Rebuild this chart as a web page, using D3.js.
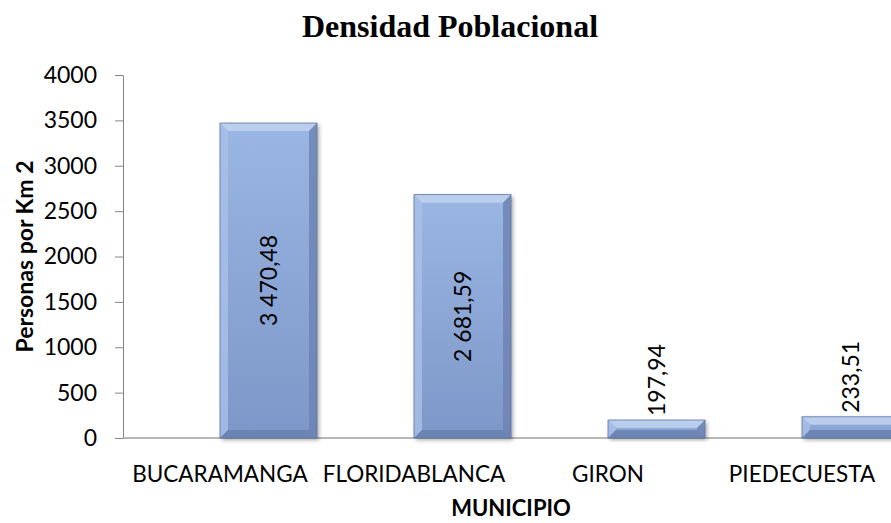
<!DOCTYPE html>
<html>
<head>
<meta charset="utf-8">
<script src="https://cdn.jsdelivr.net/npm/d3@7"></script>
<style>
  body { margin: 0; background: #fff; }
  svg text { font-family: Lato, "Open Sans", sans-serif; fill: #000; }
</style>
</head>
<body>
<div id="chart"></div>
<script>
const municipios = ["BUCARAMANGA", "FLORIDABLANCA", "GIRON", "PIEDECUESTA"];
const densidad = [3470.48, 2681.59, 197.94, 233.51];
const valueLabels = ["3 470,48", "2 681,59", "197,94", "233,51"];
const series = ["vacia", "densidad"];
const yTicks = [0, 500, 1000, 1500, 2000, 2500, 3000, 3500, 4000];

var width = 891;
var height = 523;
var margin = { left: 123, top: 75, right: -8, bottom: 85 };

var svg = d3.select("#chart").append("svg")
    .attr("width", width)
    .attr("height", height);

var defs = svg.append("defs");
var grad = defs.append("linearGradient")
    .attr("id", "barFill").attr("x1", 0).attr("y1", 0).attr("x2", 0).attr("y2", 1);
grad.append("stop").attr("offset", "0%").attr("stop-color", "#9ab6e2");
grad.append("stop").attr("offset", "100%").attr("stop-color", "#7d97c8");

var shadow = defs.append("filter").attr("id", "shadow")
    .attr("x", "-10%").attr("y", "-10%").attr("width", "130%").attr("height", "130%");
shadow.append("feDropShadow")
    .attr("dx", 2).attr("dy", 2).attr("stdDeviation", 2)
    .attr("flood-color", "#000").attr("flood-opacity", 0.35);

var x = d3.scaleBand()
    .domain(municipios)
    .range([margin.left, width - margin.right])
    .paddingInner(0).paddingOuter(0);

// two series per category, the first one is empty
var xSub = d3.scaleBand()
    .domain(series)
    .range([0, x.bandwidth()])
    .padding(0);

var y = d3.scaleLinear()
    .domain([0, 4000])
    .range([height - margin.bottom, margin.top]);

// title
svg.append("text")
    .attr("x", 450)
    .attr("y", 37)
    .attr("text-anchor", "middle")
    .style("font-family", "'Liberation Serif', 'Times New Roman', serif")
    .style("font-weight", "bold")
    .style("font-size", "32px")
    .text("Densidad Poblacional");

// y axis
var yAxis = svg.append("g")
    .attr("transform", "translate(" + margin.left + ",0)")
    .call(d3.axisLeft(y).tickValues(yTicks).tickFormat(d3.format("d"))
        .tickSize(8).tickSizeOuter(0).tickPadding(18));
yAxis.select(".domain").attr("stroke", "#868686");
yAxis.selectAll(".tick line").attr("stroke", "#868686");
yAxis.selectAll(".tick text")
    .style("font-size", "23px")
    .style("font-family", "Lato, 'Open Sans', sans-serif")
    .attr("fill", "#000");

// base line
svg.append("line")
    .attr("x1", margin.left).attr("x2", width)
    .attr("y1", y(0)).attr("y2", y(0))
    .attr("stroke", "#a0a0a0").attr("stroke-width", 1.5);

// bars
var bevel = 8;
var bars = svg.selectAll(".bar")
    .data(municipios.map((m, i) => ({ m: m, v: densidad[i], label: valueLabels[i] })))
    .enter().append("g")
    .attr("class", "bar");

bars.each(function (d) {
    var g = d3.select(this);
    var bx = x(d.m) + xSub("densidad");
    var bw = xSub.bandwidth();
    var by = y(d.v);
    var bh = y(0) - by;
    var b = Math.min(bevel, bh / 2);
    g.append("rect")
        .attr("x", bx).attr("y", by)
        .attr("width", bw).attr("height", bh)
        .attr("fill", "url(#barFill)")
        .attr("filter", "url(#shadow)");
    var faces = [
        { pts: [[bx, by], [bx + bw, by], [bx + bw - b, by + b], [bx + b, by + b]], c: "#c3d5f0" },
        { pts: [[bx, by], [bx + b, by + b], [bx + b, by + bh - b], [bx, by + bh]], c: "#a9c0e8" },
        { pts: [[bx + bw, by], [bx + bw, by + bh], [bx + bw - b, by + bh - b], [bx + bw - b, by + b]], c: "#6b82b1" },
        { pts: [[bx, by + bh], [bx + bw, by + bh], [bx + bw - b, by + bh - b], [bx + b, by + bh - b]], c: "#6880ad" }
    ];
    faces.forEach(f => {
        g.append("polygon")
            .attr("points", f.pts.map(p => p.join(",")).join(" "))
            .attr("fill", f.c)
            .attr("opacity", 0.8);
    });
    g.append("rect")
        .attr("x", bx).attr("y", by)
        .attr("width", bw).attr("height", bh)
        .attr("fill", "none")
        .attr("stroke", "#5f76a3")
        .attr("stroke-width", 0.8);

    // value label, rotated
    var cx = bx + bw / 2;
    var inside = bh > 120;
    var ly = inside ? by + bh / 2 : by - 4;
    g.append("text")
        .attr("transform", "translate(" + (cx + 8) + "," + ly + ") rotate(-90)")
        .attr("text-anchor", inside ? "middle" : "start")
        .style("font-size", "23px")
        .text(d.label);
});

// category labels
svg.selectAll(".cat")
    .data(municipios)
    .enter().append("text")
    .attr("class", "cat")
    .attr("x", d => x(d) + x.bandwidth() / 2)
    .attr("y", 482)
    .attr("text-anchor", "middle")
    .style("font-size", "22.5px")
    .text(d => d);

// axis titles
svg.append("text")
    .attr("x", (margin.left + width - margin.right) / 2)
    .attr("y", 516)
    .attr("text-anchor", "middle")
    .style("font-weight", "bold")
    .style("font-size", "22px")
    .text("MUNICIPIO");

svg.append("text")
    .attr("transform", "translate(33," + ((y(0) + y(4000)) / 2) + ") rotate(-90)")
    .attr("text-anchor", "middle")
    .style("font-weight", "bold")
    .style("font-size", "23px")
    .text("Personas por Km 2");
</script>
</body>
</html>
